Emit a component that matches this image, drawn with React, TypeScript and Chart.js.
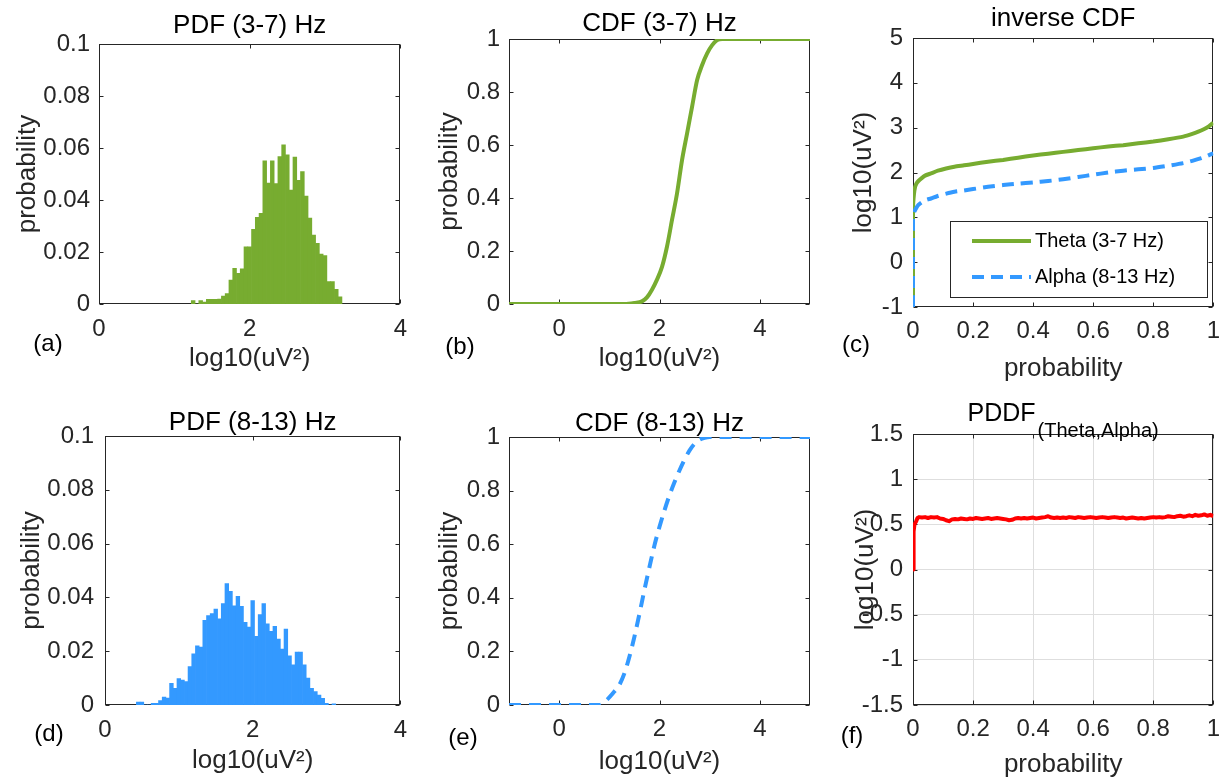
import React, { useEffect, useRef } from "react";
import { Chart, registerables } from "chart.js";
Chart.register(...registerables);

const FONT = '"Liberation Sans", Arial, Helvetica, sans-serif';
const GREEN = "#77AC30";
const BLUE = "#3399FF";
const RED = "#FF0000";
const AXIS = "#262626";

// ---------------- data ----------------
const BIN_WIDTH = 0.05;
const THETA_BIN_START = 1.225;
const ALPHA_BIN_START = 0.425;

const THETA_PDF = [
  0.0013, 0, 0.0013, 0.0007, 0.0018, 0.0018, 0.0018, 0.0019, 0.003, 0.004,
  0.0092, 0.0137, 0.0118, 0.0135, 0.022, 0.022, 0.0287, 0.0333, 0.0349, 0.0551,
  0.0465, 0.0551, 0.0463, 0.0567, 0.0612, 0.0574, 0.0438, 0.0565, 0.0476, 0.0509,
  0.0415, 0.033, 0.0265, 0.0233, 0.0192, 0.0186, 0.0086, 0.0086, 0.0056, 0.0028,
];

const ALPHA_PDF = [
  0.0011, 0.0011, 0, 0, 0.0006, 0.0006, 0.0016, 0.0029, 0.0026, 0.0081,
  0.0062, 0.0098, 0.0093, 0.0087, 0.0143, 0.019, 0.022, 0.0215, 0.0315, 0.0332,
  0.034, 0.0357, 0.032, 0.0377, 0.0451, 0.0423, 0.0369, 0.0404, 0.0367, 0.0307,
  0.029, 0.0388, 0.0255, 0.0336, 0.0377, 0.0302, 0.0274, 0.0292, 0.0245, 0.0208,
  0.0282, 0.0183, 0.0149, 0.0197, 0.0197, 0.0149, 0.01, 0.0062, 0.005, 0.0037,
  0.0025, 0.0006, 0, 0.0004,
];

const THETA_CDF_X = [-1, 0, 1.0, 1.3, 1.5, 1.65, 1.75, 1.85, 1.95, 2.05, 2.15, 2.25, 2.35, 2.45, 2.55, 2.65, 2.75, 2.85, 2.95, 3.05, 3.15, 3.25, 4, 5];
const THETA_CDF_Y = [0, 0, 0, 0, 0.004, 0.01, 0.025, 0.054, 0.092, 0.14, 0.217, 0.318, 0.418, 0.544, 0.644, 0.745, 0.845, 0.902, 0.946, 0.977, 0.996, 1, 1, 1];

const ALPHA_CDF_X = [-1, 0, 0.8, 0.95, 1.1, 1.2, 1.3, 1.4, 1.5, 1.6, 1.7, 1.8, 1.9, 2.0, 2.1, 2.2, 2.3, 2.4, 2.5, 2.6, 2.7, 2.8, 2.9, 3.0, 4, 5];
const ALPHA_CDF_Y = [0, 0, 0, 0.019, 0.05, 0.075, 0.118, 0.18, 0.255, 0.34, 0.43, 0.515, 0.596, 0.665, 0.727, 0.783, 0.832, 0.876, 0.916, 0.95, 0.975, 0.99, 0.997, 1, 1, 1];

const INV_THETA_PROB = [0, 0, 0.003, 0.007, 0.012, 0.018, 0.028, 0.04, 0.06, 0.083, 0.11, 0.138, 0.17, 0.2, 0.25, 0.3, 0.35, 0.4, 0.45, 0.5, 0.55, 0.6, 0.65, 0.7, 0.75, 0.8, 0.85, 0.9, 0.93, 0.95, 0.97, 0.985, 1.0];
const INV_THETA = [-1, 1.2, 1.5, 1.68, 1.76, 1.81, 1.87, 1.93, 1.98, 2.04, 2.09, 2.13, 2.16, 2.19, 2.24, 2.28, 2.33, 2.38, 2.42, 2.46, 2.5, 2.54, 2.58, 2.61, 2.65, 2.69, 2.74, 2.8, 2.86, 2.91, 2.97, 3.03, 3.11];

const INV_ALPHA_PROB = [0, 0, 0.004, 0.01, 0.018, 0.03, 0.045, 0.06, 0.08, 0.1, 0.138, 0.17, 0.2, 0.25, 0.3, 0.35, 0.4, 0.45, 0.5, 0.55, 0.6, 0.65, 0.7, 0.75, 0.8, 0.85, 0.9, 0.93, 0.96, 0.98, 1.0];
const INV_ALPHA = [-1, 1.0, 1.12, 1.2, 1.28, 1.34, 1.39, 1.42, 1.47, 1.51, 1.57, 1.6, 1.63, 1.68, 1.72, 1.75, 1.78, 1.81, 1.85, 1.9, 1.95, 2.0, 2.04, 2.07, 2.1, 2.15, 2.21, 2.26, 2.32, 2.37, 2.43];

const PDDF_PROB = [
  0, 0.002, 0.005, 0.01, 0.015, 0.02, 0.03, 0.04, 0.05, 0.06, 0.07, 0.08, 0.09, 0.1,
  0.11, 0.12, 0.13, 0.14, 0.15, 0.16, 0.17, 0.18, 0.19, 0.2, 0.21, 0.22, 0.23, 0.24, 0.25,
  0.26, 0.27, 0.28, 0.29, 0.3, 0.31, 0.32, 0.33, 0.34, 0.35, 0.36, 0.37, 0.38, 0.39, 0.4,
  0.41, 0.42, 0.43, 0.44, 0.45, 0.46, 0.47, 0.48, 0.49, 0.5, 0.51, 0.52, 0.53, 0.54, 0.55,
  0.56, 0.57, 0.58, 0.59, 0.6, 0.61, 0.62, 0.63, 0.64, 0.65, 0.66, 0.67, 0.68, 0.69, 0.7,
  0.71, 0.72, 0.73, 0.74, 0.75, 0.76, 0.77, 0.78, 0.79, 0.8, 0.81, 0.82, 0.83, 0.84, 0.85,
  0.86, 0.87, 0.88, 0.89, 0.9, 0.91, 0.92, 0.93, 0.94, 0.95, 0.96, 0.97, 0.98, 0.99, 1.0,
];
const PDDF_VALUES = [
  0, 0.42, 0.5, 0.53, 0.57, 0.58, 0.575, 0.58, 0.57, 0.58, 0.575, 0.58, 0.565, 0.56,
  0.545, 0.535, 0.555, 0.56, 0.555, 0.565, 0.56, 0.555, 0.565, 0.56, 0.57, 0.565, 0.56, 0.565, 0.57,
  0.56, 0.565, 0.57, 0.565, 0.56, 0.555, 0.545, 0.55, 0.565, 0.57, 0.565, 0.57, 0.565, 0.57, 0.575,
  0.565, 0.57, 0.575, 0.58, 0.59, 0.575, 0.57, 0.575, 0.57, 0.575, 0.57, 0.58, 0.575, 0.57, 0.58,
  0.575, 0.57, 0.575, 0.58, 0.575, 0.57, 0.575, 0.58, 0.575, 0.57, 0.575, 0.58, 0.575, 0.57, 0.575,
  0.565, 0.57, 0.575, 0.57, 0.565, 0.57, 0.565, 0.57, 0.575, 0.58, 0.575, 0.58, 0.575, 0.58, 0.59,
  0.585, 0.58, 0.59, 0.595, 0.585, 0.59, 0.6, 0.59, 0.605, 0.595, 0.6, 0.61, 0.595, 0.605, 0.59,
];

const PDF_X_TICKS = [0, 2, 4];
const PDF_Y_TICKS = [0, 0.02, 0.04, 0.06, 0.08, 0.1];
const CDF_X_TICKS = [0, 2, 4];
const CDF_Y_TICKS = [0, 0.2, 0.4, 0.6, 0.8, 1];
const PROB_TICKS = [0, 0.2, 0.4, 0.6, 0.8, 1];
const INV_Y_TICKS = [-1, 0, 1, 2, 3, 4, 5];
const PDDF_Y_TICKS = [-1.5, -1, -0.5, 0, 0.5, 1, 1.5];

const LEGEND_LABELS = ["Theta (3-7 Hz)", "Alpha (8-13 Hz)"];

// ---------------- panel specs ----------------
type PanelSpec = {
  rect: [number, number, number, number];
  area: [number, number, number, number];
  title?: string;
  titleCenterY?: number;
  xTitle: string;
  xTitleCenterY: number;
  yTitle: string;
  yTitleCenterX: number;
  yTickPad: number;
  xTickPad: number;
  letter: string;
  letterPos: [number, number];
  xMin: number; xMax: number; xTicks: number[];
  yMin: number; yMax: number; yTicks: number[];
  grid?: boolean;
  type: "bar" | "line";
  datasets: any[];
  extraDraw?: (chart: any, spec: PanelSpec) => void;
};

const fmt = (v: number) => String(Math.round(v * 1000) / 1000);

const histData = (start: number, vals: number[]) =>
  vals.map((v, i) => ({ x: start + BIN_WIDTH * (i + 0.5), y: v }));
const xy = (xs: number[], ys: number[]) => xs.map((x, i) => ({ x, y: ys[i] }));

function drawLegend(chart: any) {
  const ctx = chart.ctx;
  const ox = 840, oy = 0;
  const bx = 950 - ox, by = 221 - oy, bw = 257, bh = 76;
  ctx.save();
  ctx.fillStyle = "#fff";
  ctx.fillRect(bx, by, bw, bh);
  ctx.strokeStyle = AXIS;
  ctx.lineWidth = 1;
  ctx.strokeRect(bx + 0.5, by + 0.5, bw, bh);
  const rows = [
    { y: 241 - oy, color: GREEN, dash: [] as number[] },
    { y: 277 - oy, color: BLUE, dash: [12, 7] },
  ];
  rows.forEach((r, i) => {
    ctx.beginPath();
    ctx.setLineDash(r.dash);
    ctx.strokeStyle = r.color;
    ctx.lineWidth = 4;
    ctx.moveTo(972 - ox, r.y);
    ctx.lineTo(1031 - ox, r.y);
    ctx.stroke();
    ctx.setLineDash([]);
    ctx.fillStyle = "#000";
    ctx.font = `20px ${FONT}`;
    ctx.textAlign = "left";
    ctx.textBaseline = "middle";
    ctx.fillText(LEGEND_LABELS[i], 1035 - ox, r.y);
  });
  ctx.restore();
}

function drawPddfTitle(chart: any) {
  const ctx = chart.ctx;
  const ox = 840, oy = 390;
  ctx.save();
  ctx.fillStyle = "#000";
  ctx.textBaseline = "middle";
  ctx.textAlign = "left";
  ctx.font = `25px ${FONT}`;
  const main = "PDDF";
  const sub = "(Theta,Alpha)";
  const wMain = ctx.measureText(main).width;
  ctx.font = `20px ${FONT}`;
  const wSub = ctx.measureText(sub).width;
  const total = wMain + 2 + wSub;
  const center = (chart.chartArea.left + chart.chartArea.right) / 2;
  const start = center - total / 2;
  ctx.font = `25px ${FONT}`;
  ctx.fillText(main, start, 414 - oy);
  ctx.font = `20px ${FONT}`;
  ctx.fillText(sub, start + wMain + 2, 431 - oy);
  ctx.restore();
}

const PANELS: PanelSpec[] = [
  {
    rect: [0, 0, 420, 390], area: [99, 44, 407, 304],
    title: "PDF (3-7) Hz", titleCenterY: 26,
    xTitle: "log10(uV²)", xTitleCenterY: 359,
    yTitle: "probability", yTitleCenterX: 28,
    yTickPad: 9, xTickPad: 13, letter: "(a)", letterPos: [48, 344],
    xMin: 0, xMax: 4, xTicks: PDF_X_TICKS, yMin: 0, yMax: 0.1, yTicks: PDF_Y_TICKS,
    type: "bar",
    datasets: [{ data: histData(THETA_BIN_START, THETA_PDF), backgroundColor: GREEN, borderWidth: 0, barPercentage: 1, categoryPercentage: 1 }],
  },
  {
    rect: [420, 0, 420, 390], area: [509, 39, 810, 304],
    title: "CDF (3-7) Hz", titleCenterY: 24,
    xTitle: "log10(uV²)", xTitleCenterY: 359,
    yTitle: "probability", yTitleCenterX: 450,
    yTickPad: 9, xTickPad: 13, letter: "(b)", letterPos: [460, 347],
    xMin: -1, xMax: 5, xTicks: CDF_X_TICKS, yMin: 0, yMax: 1, yTicks: CDF_Y_TICKS,
    type: "line",
    datasets: [{ data: xy(THETA_CDF_X, THETA_CDF_Y), borderColor: GREEN, borderWidth: 4, pointRadius: 0, cubicInterpolationMode: "monotone", fill: false }],
  },
  {
    rect: [840, 0, 392, 390], area: [913, 38, 1217, 307],
    title: "inverse CDF", titleCenterY: 19,
    xTitle: "probability", xTitleCenterY: 369,
    yTitle: "log10(uV²)", yTitleCenterX: 864,
    yTickPad: 10, xTickPad: 12, letter: "(c)", letterPos: [856, 345],
    xMin: 0, xMax: 1, xTicks: PROB_TICKS, yMin: -1, yMax: 5, yTicks: INV_Y_TICKS,
    type: "line",
    datasets: [
      { data: xy(INV_THETA_PROB, INV_THETA), borderColor: GREEN, borderWidth: 4, pointRadius: 0, tension: 0.2, order: 1, fill: false },
      { data: xy(INV_ALPHA_PROB, INV_ALPHA), borderColor: BLUE, borderWidth: 4, borderDash: [12, 7], pointRadius: 0, tension: 0.2, order: 0, fill: false },
    ],
    extraDraw: drawLegend,
  },
  {
    rect: [0, 390, 420, 388], area: [105, 436, 407, 705],
    title: "PDF (8-13) Hz", titleCenterY: 423,
    xTitle: "log10(uV²)", xTitleCenterY: 761,
    yTitle: "probability", yTitleCenterX: 32,
    yTickPad: 11, xTickPad: 13, letter: "(d)", letterPos: [49, 734],
    xMin: 0, xMax: 4, xTicks: PDF_X_TICKS, yMin: 0, yMax: 0.1, yTicks: PDF_Y_TICKS,
    type: "bar",
    datasets: [{ data: histData(ALPHA_BIN_START, ALPHA_PDF), backgroundColor: BLUE, borderWidth: 0, barPercentage: 1, categoryPercentage: 1 }],
  },
  {
    rect: [420, 390, 420, 388], area: [509, 437, 810, 705],
    title: "CDF (8-13) Hz", titleCenterY: 424,
    xTitle: "log10(uV²)", xTitleCenterY: 762,
    yTitle: "probability", yTitleCenterX: 450,
    yTickPad: 9, xTickPad: 12, letter: "(e)", letterPos: [463, 738],
    xMin: -1, xMax: 5, xTicks: CDF_X_TICKS, yMin: 0, yMax: 1, yTicks: CDF_Y_TICKS,
    type: "line",
    datasets: [{ data: xy(ALPHA_CDF_X, ALPHA_CDF_Y), borderColor: BLUE, borderWidth: 4, borderDash: [12, 8], pointRadius: 0, cubicInterpolationMode: "monotone", fill: false }],
  },
  {
    rect: [840, 390, 392, 388], area: [913, 434, 1217, 705],
    xTitle: "probability", xTitleCenterY: 765,
    yTitle: "log10(uV²)", yTitleCenterX: 866,
    yTickPad: 10, xTickPad: 12, letter: "(f)", letterPos: [852, 736],
    xMin: 0, xMax: 1, xTicks: PROB_TICKS, yMin: -1.5, yMax: 1.5, yTicks: PDDF_Y_TICKS,
    grid: true,
    type: "line",
    datasets: [{ data: xy(PDDF_PROB, PDDF_VALUES), borderColor: RED, borderWidth: 4, pointRadius: 0, tension: 0, borderJoinStyle: "round", fill: false }],
    extraDraw: drawPddfTitle,
  },
];

function buildConfig(p: PanelSpec): any {
  const [cx, cy, cw, ch] = p.rect;
  const [L, T, R, B] = p.area;
  const Wy = L - cx;
  const padR = cx + cw - R;
  const Hx = cy + ch - B;
  const topSpace = T - cy;
  let titleOpt: any = { display: false };
  let layoutTop = topSpace;
  if (p.title) {
    const p1 = (p.titleCenterY as number) - cy - 13;
    const p2 = Math.max(0, topSpace - p1 - 26);
    titleOpt = {
      display: true, text: p.title, fullSize: false, color: "#000",
      font: { size: 26, family: FONT, weight: "normal", lineHeight: 1 },
      padding: { top: p1, bottom: p2 },
    };
    layoutTop = 0;
  }
  const xTitlePadBottom = Math.max(0, cy + ch - p.xTitleCenterY - 13);
  const yTitlePadTop = p.yTitleCenterX - cx - 13;

  const boxPlugin = {
    id: "matlabBox" + p.letter,
    beforeDatasetsDraw(chart: any) {
      const ctx = chart.ctx;
      const { left, top, right, bottom } = chart.chartArea;
      const xs = chart.scales.x, ys = chart.scales.y;
      ctx.save();
      ctx.strokeStyle = AXIS;
      ctx.lineWidth = 1;
      const l = Math.round(left) + 0.5, r = Math.round(right) - 0.5;
      const t = Math.round(top) + 0.5, b = Math.round(bottom) - 0.5;
      ctx.strokeRect(l, t, r - l, b - t);
      const TL = 4;
      ctx.beginPath();
      p.xTicks.forEach((v) => {
        const px = Math.round(xs.getPixelForValue(v)) + 0.5;
        ctx.moveTo(px, b); ctx.lineTo(px, b - TL);
        ctx.moveTo(px, t); ctx.lineTo(px, t + TL);
      });
      p.yTicks.forEach((v) => {
        const py = Math.round(ys.getPixelForValue(v)) + 0.5;
        ctx.moveTo(l, py); ctx.lineTo(l + TL, py);
        ctx.moveTo(r, py); ctx.lineTo(r - TL, py);
      });
      ctx.stroke();
      ctx.restore();
    },
    afterDraw(chart: any) {
      const ctx = chart.ctx;
      ctx.save();
      ctx.fillStyle = "#000";
      ctx.font = `24px ${FONT}`;
      ctx.textAlign = "center";
      ctx.textBaseline = "middle";
      ctx.fillText(p.letter, p.letterPos[0] - cx, p.letterPos[1] - cy);
      ctx.restore();
      if (p.extraDraw) p.extraDraw(chart, p);
    },
  };

  const tickFont = { size: 24, family: FONT, lineHeight: 1 };
  const labelFont = { size: 26, family: FONT, lineHeight: 1 };

  return {
    type: p.type,
    data: { datasets: p.datasets },
    options: {
      responsive: false,
      animation: false,
      devicePixelRatio: 1,
      events: [],
      layout: { padding: { left: 0, right: padR, top: layoutTop, bottom: 0 } },
      plugins: { legend: { display: false }, tooltip: { enabled: false }, title: titleOpt },
      scales: {
        x: {
          type: "linear", min: p.xMin, max: p.xMax, offset: false,
          afterBuildTicks: (s: any) => { s.ticks = p.xTicks.map((v) => ({ value: v })); },
          afterFit: (s: any) => { s.height = Hx; },
          grid: { display: !!p.grid, drawTicks: false, tickLength: 0, color: "#DEDEDE", lineWidth: 1 },
          border: { display: false },
          ticks: { padding: p.xTickPad, font: tickFont, color: AXIS, maxRotation: 0, minRotation: 0, autoSkip: false, callback: (v: number) => fmt(v) },
          title: { display: true, text: p.xTitle, font: labelFont, color: AXIS, padding: { top: 0, bottom: xTitlePadBottom } },
        },
        y: {
          type: "linear", min: p.yMin, max: p.yMax,
          afterBuildTicks: (s: any) => { s.ticks = p.yTicks.map((v) => ({ value: v })); },
          afterFit: (s: any) => { s.width = Wy; },
          grid: { display: !!p.grid, drawTicks: false, tickLength: 0, color: "#DEDEDE", lineWidth: 1 },
          border: { display: false },
          ticks: { padding: p.yTickPad, font: tickFont, color: AXIS, autoSkip: false, callback: (v: number) => fmt(v) },
          title: { display: true, text: p.yTitle, font: labelFont, color: AXIS, padding: { top: yTitlePadTop, bottom: 0 } },
        },
      },
    },
    plugins: [boxPlugin],
  };
}

function Panel({ spec }: { spec: PanelSpec }) {
  const ref = useRef<HTMLCanvasElement>(null);
  useEffect(() => {
    const chart = new Chart(ref.current as HTMLCanvasElement, buildConfig(spec));
    return () => chart.destroy();
  }, [spec]);
  const [x, y, w, h] = spec.rect;
  return (
    <canvas
      ref={ref}
      width={w}
      height={h}
      style={{ position: "absolute", left: x, top: y, width: w, height: h, display: "block" }}
    />
  );
}

export default function App() {
  return (
    <div style={{ position: "absolute", left: 0, top: 0, width: 1232, height: 778, background: "#fff", overflow: "hidden" }}>
      {PANELS.map((p, i) => (
        <Panel key={i} spec={p} />
      ))}
    </div>
  );
}
